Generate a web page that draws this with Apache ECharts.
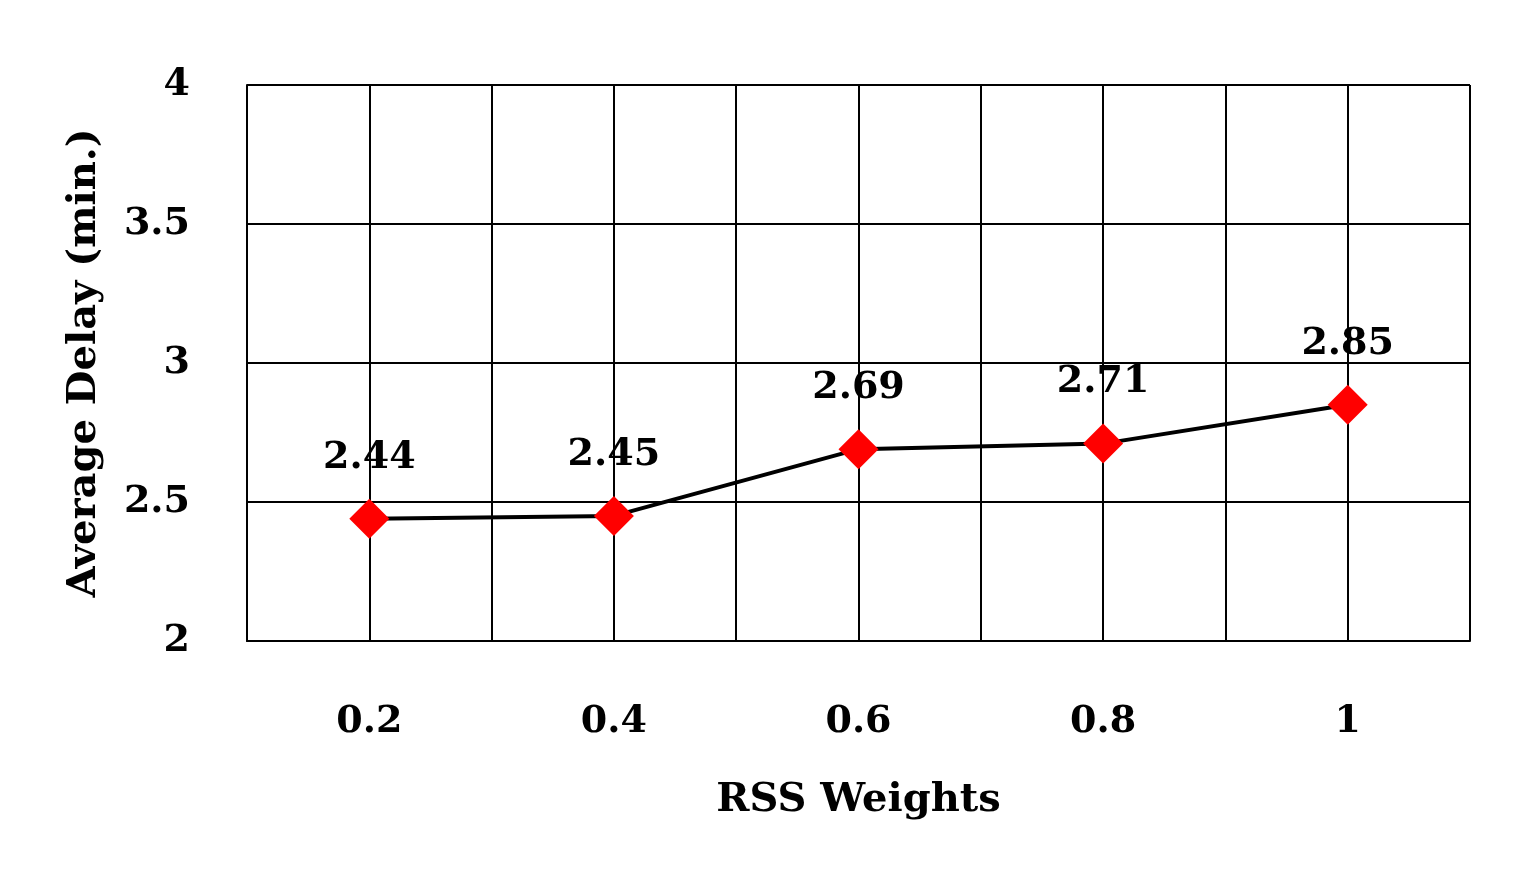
<!DOCTYPE html>
<html><head><meta charset="utf-8">
<script src="https://cdn.jsdelivr.net/npm/echarts@6/dist/echarts.min.js"></script>
<style>html,body{margin:0;padding:0;background:#fff}#c{width:1520px;height:870px}</style>
</head><body><div id="c"></div>
<script>
const weights = [0.2, 0.4, 0.6, 0.8, 1.0];
const delays = [2.44, 2.45, 2.69, 2.71, 2.85];
const yTicks = [2, 2.5, 3, 3.5, 4];
const font = 'DejaVu Serif';
const chart = echarts.init(document.getElementById('c'));
chart.setOption({
  animation: false,
  backgroundColor: '#fff',
  grid: {left: 247, right: 50, top: 85, bottom: 229},
  xAxis: {
    type: 'value', min: 0.1, max: 1.1, interval: 0.1,
    name: 'RSS Weights', nameLocation: 'middle', nameGap: 140,
    nameTextStyle: {fontFamily: font, fontWeight: 'bold', fontSize: 40, color: '#000'},
    axisLine: {show: true, lineStyle: {color: '#000', width: 2}},
    axisTick: {show: false},
    splitLine: {show: true, lineStyle: {color: '#000', width: 2}},
    axisLabel: {margin: 62, fontFamily: font, fontWeight: 'bold', fontSize: 38, color: '#000',
      formatter: v => { const k = Math.round(v * 10); return (k % 2 === 0 && k >= 2 && k <= 10) ? String(k / 10) : ''; }}
  },
  yAxis: {
    type: 'value', min: yTicks[0], max: yTicks[yTicks.length - 1], interval: 0.5,
    name: 'Average Delay (min.)', nameLocation: 'middle', nameGap: 142,
    nameTextStyle: {fontFamily: font, fontWeight: 'bold', fontSize: 40, color: '#000'},
    axisLine: {show: true, lineStyle: {color: '#000', width: 2}},
    axisTick: {show: false},
    splitLine: {show: true, lineStyle: {color: '#000', width: 2}},
    axisLabel: {margin: 57, fontFamily: font, fontWeight: 'bold', fontSize: 38, color: '#000'}
  },
  series: [{
    type: 'line',
    data: weights.map((w, i) => [w, delays[i]]),
    symbol: 'diamond', symbolSize: 40,
    lineStyle: {color: '#000', width: 4},
    itemStyle: {color: '#ff0000'},
    label: {show: true, position: 'top', distance: 22, fontFamily: font, fontWeight: 'bold', fontSize: 38, color: '#000',
      formatter: p => p.value[1].toFixed(2)}
  }]
});
</script></body></html>
